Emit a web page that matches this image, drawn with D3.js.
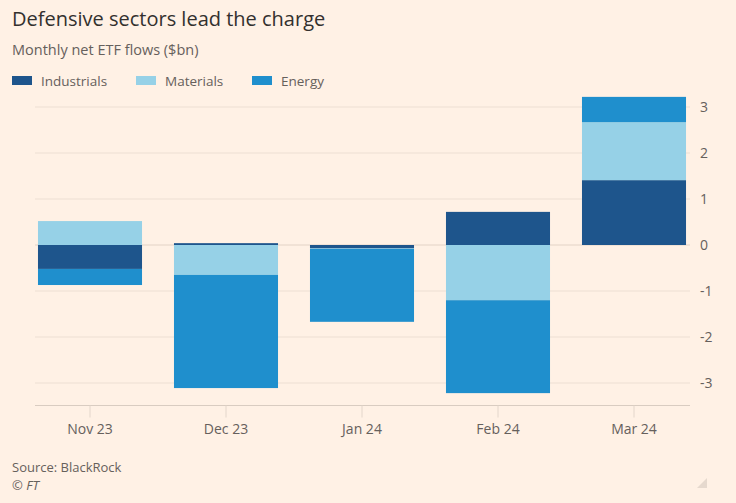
<!DOCTYPE html>
<html>
<head>
<meta charset="utf-8">
<script src="https://cdn.jsdelivr.net/npm/d3@7"></script>
<style>
  body { margin: 0; background: #fff1e5; }
  svg { display: block; font-family: "Open Sans", sans-serif; }
</style>
</head>
<body>
<div id="chart"></div>
<script>
var months = ["Nov 23", "Dec 23", "Jan 24", "Feb 24", "Mar 24"];
var sectors = ["Industrials", "Materials", "Energy"];
var industrials = [-0.52, 0.04, -0.07, 0.72, 1.41];
var materials = [0.52, -0.65, -0.01, -1.2, 1.26];
var energy = [-0.35, -2.46, -1.59, -2.02, 0.55];
var yTicks = [-3, -2, -1, 0, 1, 2, 3];
var colors = ["#1e558c", "#96d1e7", "#1f8fcd"];

var width = 736;
var height = 503;

var rows = months.map(function(m, i) {
  return {month: m, Industrials: industrials[i], Materials: materials[i], Energy: energy[i]};
});

var series = d3.stack()
  .keys(sectors)
  .offset(d3.stackOffsetDiverging)(rows);

var svg = d3.select("#chart")
  .append("svg")
  .attr("width", width)
  .attr("height", height);

svg.append("rect")
  .attr("width", width)
  .attr("height", height)
  .attr("fill", "#fff1e5");

var xScale = d3.scaleBand()
  .domain(months)
  .range([22, 702])
  .paddingInner(0.235)
  .paddingOuter(0.1175);

var yScale = d3.scaleLinear()
  .domain([-3.5, 3.5])
  .range([406, 84]);

var color = d3.scaleOrdinal().domain(sectors).range(colors);

// gridlines
svg.append("g")
  .selectAll("line")
  .data(yTicks)
  .enter()
  .append("line")
    .attr("x1", 35)
    .attr("x2", 690)
    .attr("y1", function(d) { return yScale(d); })
    .attr("y2", function(d) { return yScale(d); })
    .attr("stroke", function(d) { return d === 0 ? "#e3d3c6" : "#eddfd3"; })
    .attr("stroke-width", 1);

// y labels on the right
var yAxis = svg.append("g")
  .attr("class", "axis")
  .attr("transform", "translate(690,0)")
  .call(d3.axisRight(yScale).tickValues(yTicks).tickSize(0).tickPadding(10)
    .tickFormat(function(d) { return String(d); }));
yAxis.select(".domain").remove();
yAxis.selectAll("text")
  .attr("fill", "#66605c")
  .attr("font-size", 14)
  .attr("font-family", "Open Sans, sans-serif");

// bars
svg.append("g")
  .selectAll("g")
  .data(series)
  .enter()
  .append("g")
    .attr("fill", function(d) { return color(d.key); })
  .selectAll("rect")
  .data(function(d) { return d; })
  .enter()
  .append("rect")
    .attr("x", function(d) { return xScale(d.data.month); })
    .attr("width", xScale.bandwidth())
    .attr("y", function(d) { return yScale(Math.max(d[0], d[1])); })
    .attr("height", function(d) { return Math.abs(yScale(d[0]) - yScale(d[1])); });

// x axis
var xAxis = svg.append("g")
  .attr("class", "axis")
  .attr("transform", "translate(0,405.5)")
  .call(d3.axisBottom(xScale).tickSize(12).tickPadding(7).tickSizeOuter(0));
xAxis.select(".domain")
  .attr("d", "M35,0H690")
  .attr("stroke", "#d9ccc1");
xAxis.selectAll(".tick line").attr("stroke", "#e3d6cb");
xAxis.selectAll("text")
  .attr("fill", "#66605c")
  .attr("font-size", 14)
  .attr("font-family", "Open Sans, sans-serif");

// titles
svg.append("text")
  .attr("x", 12)
  .attr("y", 26)
  .attr("fill", "#33302e")
  .attr("font-size", 20)
  .text("Defensive sectors lead the charge");

svg.append("text")
  .attr("x", 12)
  .attr("y", 55)
  .attr("fill", "#66605c")
  .attr("font-size", 14.5)
  .text("Monthly net ETF flows ($bn)");

// legend
var legendX = [12, 136, 252];
var legend = svg.append("g")
  .selectAll("g")
  .data(sectors)
  .enter()
  .append("g")
    .attr("transform", function(d, i) { return "translate(" + legendX[i] + ",76)"; });
legend.append("rect")
  .attr("width", 20)
  .attr("height", 9)
  .attr("fill", function(d) { return color(d); });
legend.append("text")
  .attr("x", 29)
  .attr("y", 10)
  .attr("fill", "#66605c")
  .attr("font-size", 13.5)
  .text(function(d) { return d; });

// source
svg.append("text")
  .attr("x", 12)
  .attr("y", 472)
  .attr("fill", "#66605c")
  .attr("font-size", 13)
  .text("Source: BlackRock");

svg.append("text")
  .attr("x", 12)
  .attr("y", 490)
  .attr("fill", "#66605c")
  .attr("font-size", 13)
  .attr("font-style", "italic")
  .text("© FT");

svg.append("path")
  .attr("d", "M707,478L707,488L697,488Z")
  .attr("fill", "#e6d9ce");
</script>
</body>
</html>
